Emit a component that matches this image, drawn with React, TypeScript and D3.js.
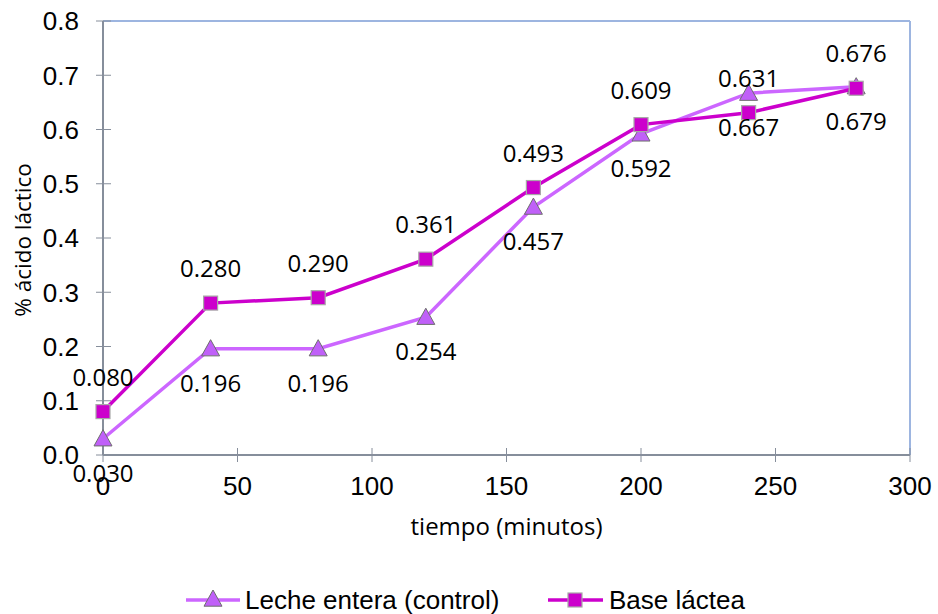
import React from 'react';
import * as d3 from 'd3';

// tiempo (minutos)
const tiempos = [0, 40, 80, 120, 160, 200, 240, 280];
const lecheEntera = [0.03, 0.196, 0.196, 0.254, 0.457, 0.592, 0.667, 0.679];
const baseLactea = [0.08, 0.28, 0.29, 0.361, 0.493, 0.609, 0.631, 0.676];
// data labels as printed in the chart
const lecheLabels = ['0.030', '0.196', '0.196', '0.254', '0.457', '0.592', '0.667', '0.679'];
const baseLabels = ['0.080', '0.280', '0.290', '0.361', '0.493', '0.609', '0.631', '0.676'];
const xTicks = [0, 50, 100, 150, 200, 250, 300];
const yTicks = [0, 0.1, 0.2, 0.3, 0.4, 0.5, 0.6, 0.7, 0.8];

const W = 938;
const H = 614;
const margin = { top: 21, right: 28, bottom: 159, left: 103 };

const colorLeche = '#cc66ff';
const colorBase = '#cc00cc';
const axisColor = '#868e9b';
const frameColor = '#9db5e0';
const labelFont = '"Open Sans", sans-serif';
const tickFont = '"Liberation Sans", Arial, sans-serif';

const x = d3.scaleLinear().domain([0, 300]).range([margin.left, W - margin.right]);
const y = d3.scaleLinear().domain([0, 0.8]).range([H - margin.bottom, margin.top]);

const line = d3
  .line<[number, number]>()
  .x((d) => x(d[0]))
  .y((d) => y(d[1]));

const tri = (cx: number, cy: number, s = 9) =>
  `M${cx},${cy - s} L${cx + s},${cy + s * 0.8} L${cx - s},${cy + s * 0.8} Z`;

const Triangle = ({ cx, cy }: { cx: number; cy: number }) => (
  <path d={tri(cx, cy)} fill="#c060f8" stroke="#6e6e6e" strokeWidth={1} />
);

const Square = ({ cx, cy }: { cx: number; cy: number }) => (
  <rect x={cx - 7} y={cy - 7} width={14} height={14} fill={colorBase} stroke="#a8a8a8" strokeWidth={1.2} />
);

export default function App() {
  const lechePts = tiempos.map((t, i) => [t, lecheEntera[i]] as [number, number]);
  const basePts = tiempos.map((t, i) => [t, baseLactea[i]] as [number, number]);
  const x0 = x(0);
  const x1 = x(300);
  const yBottom = y(0);
  const yTop = y(0.8);

  return (
    <svg width={W} height={H} style={{ position: 'absolute', left: 0, top: 0, background: '#fff' }}>
      {/* frame */}
      <line x1={x0} x2={x1} y1={yTop} y2={yTop} stroke={frameColor} strokeWidth={2} />
      <line x1={x1} x2={x1} y1={yTop} y2={yBottom} stroke={frameColor} strokeWidth={2} />

      {/* y axis */}
      <line x1={x0} x2={x0} y1={yTop} y2={yBottom} stroke={axisColor} strokeWidth={2} />
      {yTicks.map((t) => (
        <g key={`y${t}`}>
          <line x1={x0 - 7} x2={x0 + 8} y1={y(t)} y2={y(t)} stroke={axisColor} strokeWidth={1} />
          <text x={x0 - 24} y={y(t)} dy="0.36em" textAnchor="end" fontFamily={tickFont} fontSize={26} fill="#000">
            {t.toFixed(1)}
          </text>
        </g>
      ))}

      {/* x axis */}
      <line x1={x0} x2={x1} y1={yBottom} y2={yBottom} stroke={axisColor} strokeWidth={2} />
      {xTicks.map((t) => (
        <g key={`x${t}`}>
          <line x1={x(t)} x2={x(t)} y1={yBottom - 7} y2={yBottom + 7} stroke={axisColor} strokeWidth={1} />
          <text x={x(t)} y={yBottom + 40} textAnchor="middle" fontFamily={tickFont} fontSize={26} fill="#000">
            {t}
          </text>
        </g>
      ))}

      <text x={(x0 + x1) / 2} y={535} textAnchor="middle" fontFamily={labelFont} fontSize={24} fill="#000">
        tiempo (minutos)
      </text>
      <text
        transform={`translate(31,${(yTop + yBottom) / 2 + 2}) rotate(-90)`}
        textAnchor="middle"
        fontFamily={labelFont}
        fontSize={22.5}
        fill="#000"
      >
        % ácido láctico
      </text>

      {/* lines */}
      <path d={line(lechePts) ?? ''} fill="none" stroke={colorLeche} strokeWidth={3.5} />
      <path d={line(basePts) ?? ''} fill="none" stroke={colorBase} strokeWidth={3.5} />

      {lechePts.map(([t, v], i) => (
        <Triangle key={`t${i}`} cx={x(t)} cy={y(v)} />
      ))}
      {basePts.map(([t, v], i) => (
        <Square key={`s${i}`} cx={x(t)} cy={y(v)} />
      ))}

      {/* data labels */}
      {lechePts.map(([t, v], i) => (
        <text key={`lt${i}`} x={x(t)} y={y(v) + 43} textAnchor="middle" fontFamily={labelFont} fontSize={24} fill="#000">
          {lecheLabels[i]}
        </text>
      ))}
      {basePts.map(([t, v], i) => (
        <text key={`lb${i}`} x={x(t)} y={y(v) - 26} textAnchor="middle" fontFamily={labelFont} fontSize={24} fill="#000">
          {baseLabels[i]}
        </text>
      ))}

      {/* legend */}
      <g transform="translate(186,600)">
        <line x1={0} x2={54} y1={0} y2={0} stroke={colorLeche} strokeWidth={3.5} />
        <Triangle cx={27} cy={-1} />
        <text x={59} y={0} dy="0.36em" fontFamily={tickFont} fontSize={26} fill="#000">
          Leche entera (control)
        </text>
      </g>
      <g transform="translate(548,600)">
        <line x1={0} x2={55} y1={0} y2={0} stroke={colorBase} strokeWidth={3.5} />
        <Square cx={27} cy={0} />
        <text x={61} y={0} dy="0.36em" fontFamily={tickFont} fontSize={26} fill="#000">
          Base láctea
        </text>
      </g>
    </svg>
  );
}
